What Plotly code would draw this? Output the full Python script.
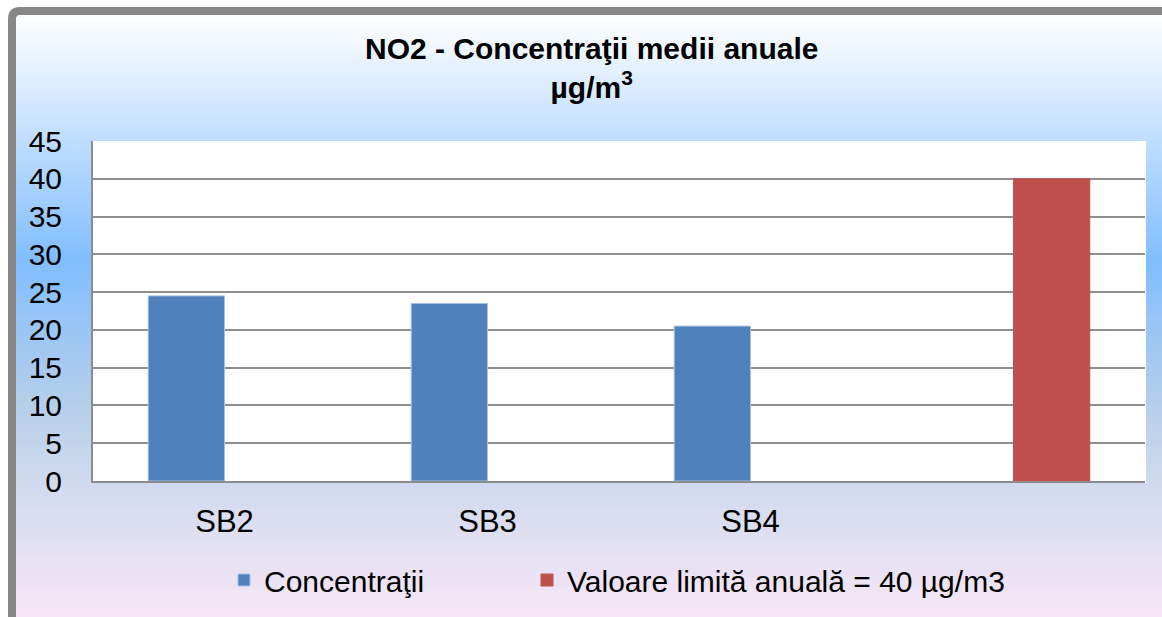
import plotly.graph_objects as go

# ---- data ----
categories = ["SB2", "SB3", "SB4", ""]
concentratii = [24.5, 23.5, 20.5, None]
valoare_limita = [None, None, None, 40]
y_ticks = [0, 5, 10, 15, 20, 25, 30, 35, 40, 45]

W, H = 1162, 617
ML, MR, MT, MB = 93, 17, 141, 136
PW = W - ML - MR
PH = H - MT - MB


def fx(px):
    return (px - ML) / PW


def fy(py):
    return (H - MB - py) / PH


x_pos = list(range(len(categories)))
named = [(i, c) for i, c in zip(x_pos, categories) if c]

fig = go.Figure()
fig.add_trace(go.Bar(
    x=x_pos, y=concentratii, name="Concentraţii",
    marker=dict(color="#4F81BD", line=dict(color="#A7C0E0", width=1)),
    legend="legend",
))
fig.add_trace(go.Bar(
    x=x_pos, y=valoare_limita, name="Valoare limită anuală = 40 µg/m3",
    marker=dict(color="#C0504D", line=dict(color="#C0504D", width=1)),
    legend="legend2",
))

# ---- background gradient (decoration) ----
stops = [
    (15, (255, 255, 255)),
    (140, (192, 222, 255)),
    (260, (128, 190, 255)),
    (400, (180, 206, 234)),
    (490, (210, 219, 238)),
    (617, (247, 230, 247)),
]


def col_at(py):
    for (p0, c0), (p1, c1) in zip(stops[:-1], stops[1:]):
        if p0 <= py <= p1:
            t = (py - p0) / (p1 - p0)
            return "rgb(%d,%d,%d)" % tuple(round(a + (b - a) * t) for a, b in zip(c0, c1))
    return "rgb(%d,%d,%d)" % stops[-1][1]


shapes = []
step = 3
py = 14
while py < H:
    shapes.append(dict(
        type="rect", xref="paper", yref="paper", layer="below",
        x0=fx(15), x1=fx(W + 5), y0=fy(py), y1=fy(min(py + step + 0.6, H + 2)),
        fillcolor=col_at(py + step / 2), line=dict(width=0),
    ))
    py += step

# white plot area
shapes.append(dict(
    type="rect", xref="paper", yref="paper", layer="below",
    x0=0, x1=fx(1146), y0=fy(483), y1=1,
    fillcolor="white", line=dict(width=0),
))

# grey frame (top-left rounded)
r = 8
fxa, fya = fx(12), fy(11)
path = "M %f,%f L %f,%f Q %f,%f %f,%f L %f,%f" % (
    fxa, fy(H + 10), fxa, fy(11 + r), fxa, fya, fx(12 + r), fya, fx(W + 10), fya)
shapes.append(dict(type="path", xref="paper", yref="paper", layer="below",
                   path=path, line=dict(color="#878787", width=8)))

FONT = "Liberation Sans, Arial, sans-serif"

fig.update_layout(
    width=W, height=H,
    margin=dict(l=ML, r=MR, t=MT, b=MB, autoexpand=False),
    paper_bgcolor="white", plot_bgcolor="rgba(0,0,0,0)",
    font=dict(family=FONT, size=30, color="black"),
    barmode="group", bargap=0.42, bargroupgap=0,
    shapes=shapes,
    annotations=[dict(
        text="<b>NO2 - Concentraţii medii anuale<br>µg/m<sup>3</sup></b>",
        xref="paper", yref="paper", x=fx(591), y=fy(30),
        xanchor="center", yanchor="top", showarrow=False,
        font=dict(size=30, family=FONT, color="black"),
    )],
    xaxis=dict(
        range=[-0.5, 3.5], tickmode="array",
        tickvals=[i for i, _ in named], ticktext=[c for _, c in named],
        showgrid=False, zeroline=False, showline=True, linecolor="#8c8c8c", linewidth=2,
        ticks="", ticklabelstandoff=12, tickfont=dict(size=31),
    ),
    yaxis=dict(
        range=[0, 45], tickmode="array", tickvals=y_ticks,
        showgrid=True, gridcolor="#8f8f8f", gridwidth=2, zeroline=False,
        showline=True, linecolor="#8c8c8c", linewidth=2,
        ticks="", ticklabelstandoff=23, tickfont=dict(size=30),
    ),
    legend=dict(
        orientation="h", x=fx(224), xanchor="left", y=fy(554), yanchor="top",
        font=dict(size=30), bgcolor="rgba(0,0,0,0)", itemwidth=30,
    ),
    legend2=dict(
        orientation="h", x=fx(527), xanchor="left", y=fy(554), yanchor="top",
        font=dict(size=30), bgcolor="rgba(0,0,0,0)", itemwidth=30,
    ),
    showlegend=True,
)

fig.write_html("out.html", config={"displayModeBar": False},
               post_script="document.body.style.margin='0';")
